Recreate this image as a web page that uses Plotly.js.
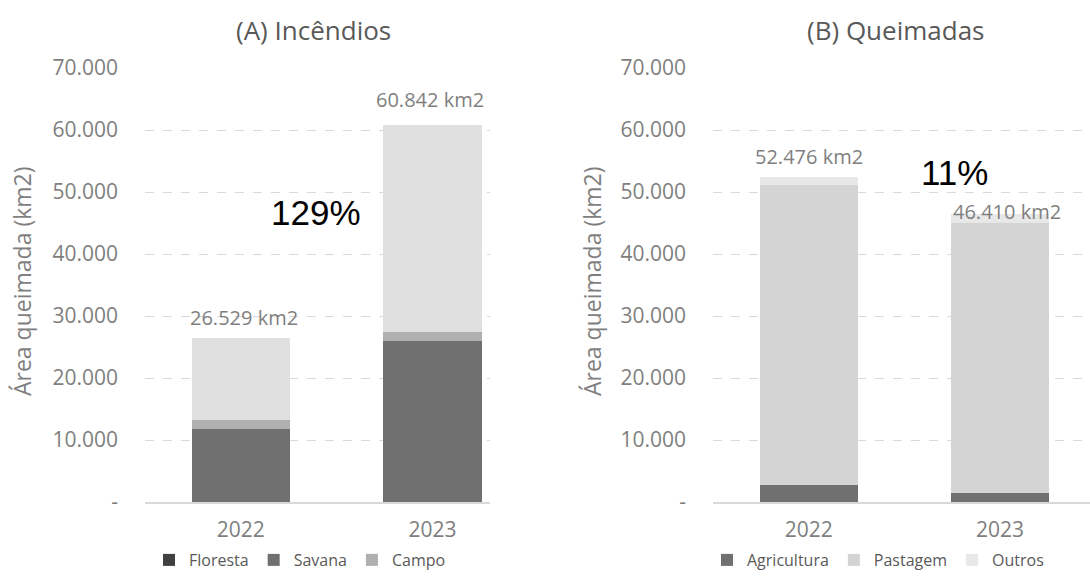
<!DOCTYPE html>
<html>
<head>
<meta charset="utf-8">
<script src="https://cdn.plot.ly/plotly-3.0.1.min.js"></script>
<style>
html,body{margin:0;padding:0;background:#fff;}
#chart{width:1090px;height:583px;}
</style>
</head>
<body>
<div id="chart"></div>
<script>
// ---- data ----
const years = ['2022', '2023'];
// (A) Incêndios
const incFloresta = [0, 0];
const incSavana = [11700, 25900];
const incCampo = [1600, 1550];
const incOutros = [13229, 33392];
const incTotals = [26529, 60842];
// (B) Queimadas
const queAgricultura = [2800, 1400];
const quePastagem = [48400, 43600];
const queOutros = [1276, 1410];
const queTotals = [52476, 46410];
// y ticks
const tickVals = [0, 10000, 20000, 30000, 40000, 50000, 60000, 70000];
const tickText = ['-', '10.000', '20.000', '30.000', '40.000', '50.000', '60.000', '70.000'];
const pctLabels = ['129%', '11%'];

function fmt(n) {
  return String(n).replace(/\B(?=(\d{3})+(?!\d))/g, '.');
}

const FONT = 'Open Sans, Noto Sans, sans-serif';
const GREY = '#7f7f7f';

function bar(name, y, color, xa, ya, legend, showlegend) {
  return {
    type: 'bar', name: name, x: years, y: y,
    xaxis: xa, yaxis: ya, legend: legend,
    showlegend: showlegend,
    marker: {color: color, line: {width: 0}},
    hoverinfo: 'name+y'
  };
}

const data = [
  bar('Floresta', incFloresta, '#404040', 'x', 'y', 'legend', true),
  bar('Savana', incSavana, '#707070', 'x', 'y', 'legend', true),
  bar('Campo', incCampo, '#b0b0b0', 'x', 'y', 'legend', true),
  bar('Outros', incOutros, '#e0e0e0', 'x', 'y', 'legend', false),
  bar('Agricultura', queAgricultura, '#707070', 'x2', 'y2', 'legend2', true),
  bar('Pastagem', quePastagem, '#d4d4d4', 'x2', 'y2', 'legend2', true),
  bar('Outros', queOutros, '#e8e8e8', 'x2', 'y2', 'legend2', true)
];

function yax(anchor) {
  return {
    anchor: anchor,
    range: [0, 70000],
    tickvals: tickVals, ticktext: tickText,
    tickfont: {family: FONT, size: 21, color: GREY},
    showgrid: true, gridcolor: '#d9d9d9', griddash: 'dash', gridwidth: 1,
    zeroline: false, showline: false, ticks: '',
    ticklabelstandoff: 26,
    automargin: false, fixedrange: true
  };
}
function xax(anchor, domain, range) {
  return {
    anchor: anchor, domain: domain, range: range,
    type: 'category',
    tickfont: {family: FONT, size: 21, color: GREY},
    showline: true, linecolor: '#d9d9d9', linewidth: 2,
    showgrid: false, zeroline: false, ticks: '',
    ticklabelstandoff: 8,
    automargin: false, fixedrange: true
  };
}

const annotations = [];
// titles
annotations.push({xref: 'paper', yref: 'paper', x: 313/1090, y: (502-30)/434, xanchor: 'center', yanchor: 'middle',
  text: '(A) Incêndios', showarrow: false, font: {family: FONT, size: 26, color: '#595959'}});
annotations.push({xref: 'paper', yref: 'paper', x: 895/1090, y: (502-30)/434, xanchor: 'center', yanchor: 'middle',
  text: '(B) Queimadas', showarrow: false, font: {family: FONT, size: 26, color: '#595959'}});
// y axis titles
annotations.push({xref: 'paper', yref: 'paper', x: 22/1090, y: (502-281)/434, xanchor: 'center', yanchor: 'middle',
  text: 'Área queimada (km2)', textangle: -90, showarrow: false, font: {family: FONT, size: 23, color: GREY}});
annotations.push({xref: 'paper', yref: 'paper', x: 592/1090, y: (502-281)/434, xanchor: 'center', yanchor: 'middle',
  text: 'Área queimada (km2)', textangle: -90, showarrow: false, font: {family: FONT, size: 23, color: GREY}});
// totals (x given as category index)
const incShift = [[3, 20], [-3, 25]];
const queShift = [[0, 20], [7, 3]];
years.forEach((yr, i) => {
  annotations.push({xref: 'x', yref: 'y', x: i, y: incTotals[i], xanchor: 'center', yanchor: 'middle',
    xshift: incShift[i][0], yshift: incShift[i][1],
    text: fmt(incTotals[i]) + ' km2', showarrow: false, font: {family: FONT, size: 20, color: GREY}});
  annotations.push({xref: 'x2', yref: 'y2', x: i, y: queTotals[i], xanchor: 'center', yanchor: 'middle',
    xshift: queShift[i][0], yshift: queShift[i][1],
    text: fmt(queTotals[i]) + ' km2', showarrow: false, font: {family: FONT, size: 20, color: GREY}});
});
// percentages
annotations.push({xref: 'paper', yref: 'paper', x: 316/1090, y: (502-212)/434, xanchor: 'center', yanchor: 'middle',
  text: pctLabels[0], showarrow: false, font: {family: 'Liberation Sans, Arial, sans-serif', size: 35, color: '#000'}});
annotations.push({xref: 'paper', yref: 'paper', x: 954/1090, y: (502-172)/434, xanchor: 'center', yanchor: 'middle',
  text: pctLabels[1], showarrow: false, font: {family: 'Liberation Sans, Arial, sans-serif', size: 35, color: '#000'}});

const legendStyle = {
  orientation: 'h', xanchor: 'center', yanchor: 'middle',
  y: (502-560)/434, traceorder: 'normal',
  font: {family: FONT, size: 16, color: '#595959'},
  bgcolor: 'rgba(0,0,0,0)', itemclick: false, itemdoubleclick: false
};

const layout = {
  width: 1090, height: 583,
  margin: {l: 0, r: 0, t: 68, b: 81},
  paper_bgcolor: '#fff', plot_bgcolor: '#fff',
  barmode: 'stack', bargap: 0.487,
  showlegend: true,
  xaxis: xax('y', [145/1090, 490/1090], [-0.5, 1.3]),
  yaxis: yax('x'),
  xaxis2: xax('y2', [713/1090, 1], [-0.5, 1.47]),
  yaxis2: yax('x2'),
  legend: Object.assign({}, legendStyle, {x: 300/1090}),
  legend2: Object.assign({}, legendStyle, {x: 878/1090}),
  annotations: annotations
};

Plotly.newPlot('chart', data, layout, {displayModeBar: false});
</script>
</body>
</html>
